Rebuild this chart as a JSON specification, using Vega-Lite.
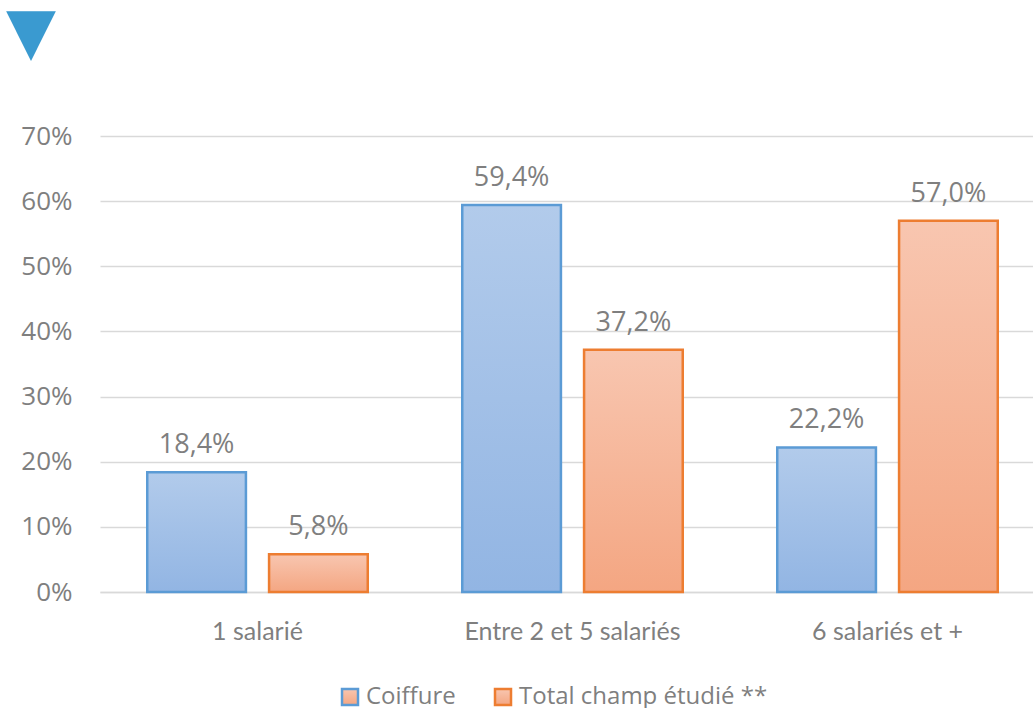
{
  "$schema": "https://vega.github.io/schema/vega-lite/v6.json",
  "width": 945,
  "height": 456,
  "autosize": "none",
  "padding": {"left": 100, "top": 136, "right": 0, "bottom": 116},
  "background": "white",
  "title": {
    "text": "▼",
    "anchor": "start",
    "frame": "group",
    "dx": -94,
    "offset": 56,
    "fontSize": 65,
    "font": "DejaVu Sans",
    "color": "#3A9AD0",
    "fontWeight": "normal"
  },
  "config": {
    "view": {"stroke": null},
    "locale": {"number": {"decimal": ",", "thousands": " ", "grouping": [3], "currency": ["", " €"]}},
    "font": "Open Sans"
  },
  "data": {
    "values": [
      {"cat": "1 salarié", "serie": "Coiffure", "value": 0.184},
      {"cat": "1 salarié", "serie": "Total champ étudié  **", "value": 0.058},
      {"cat": "Entre 2 et 5 salariés", "serie": "Coiffure", "value": 0.594},
      {"cat": "Entre 2 et 5 salariés", "serie": "Total champ étudié  **", "value": 0.372},
      {"cat": "6 salariés et +", "serie": "Coiffure", "value": 0.222},
      {"cat": "6 salariés et +", "serie": "Total champ étudié  **", "value": 0.570}
    ]
  },
  "encoding": {
    "x": {
      "field": "cat", "type": "nominal", "sort": null,
      "scale": {"paddingInner": 0.3, "paddingOuter": 0.15},
      "axis": {"title": null, "labelAngle": 0, "labelFontSize": 25, "labelColor": "#7F7F7F", "labelPadding": 27, "labelLimit": 0, "ticks": false, "domainColor": "#D9D9D9", "domainWidth": 1.5, "labelFont": "Lato"}
    },
    "xOffset": {"field": "serie", "type": "nominal", "sort": null, "scale": {"paddingInner": 0.19}},
    "y": {
      "field": "value", "type": "quantitative",
      "scale": {"domain": [0, 0.7], "nice": false},
      "axis": {"title": null, "format": ".0%", "values": [0, 0.1, 0.2, 0.3, 0.4, 0.5, 0.6, 0.7], "domain": false, "ticks": false, "labelPadding": 28, "labelFontSize": 26, "labelColor": "#7F7F7F", "gridColor": "#D9D9D9", "gridWidth": 1.5, "labelFont": "Open Sans"}
    }
  },
  "layer": [
    {
      "mark": {"type": "bar", "strokeWidth": 2.5},
      "encoding": {
        "fill": {
          "condition": {
            "test": "datum.serie === 'Coiffure'",
            "value": {"gradient": "linear", "x1": 0, "y1": 0, "x2": 0, "y2": 1, "stops": [{"offset": 0, "color": "#B2CBEB"}, {"offset": 1, "color": "#92B5E3"}]}
          },
          "value": {"gradient": "linear", "x1": 0, "y1": 0, "x2": 0, "y2": 1, "stops": [{"offset": 0, "color": "#F8C6B0"}, {"offset": 1, "color": "#F4A682"}]}
        },
        "stroke": {
          "field": "serie", "type": "nominal", "sort": null,
          "scale": {"range": ["#5B9BD5", "#ED7D31"]},
          "legend": {
            "title": null, "orient": "none", "legendX": 238, "legendY": 549, "direction": "horizontal",
            "symbolType": "square", "symbolSize": 256, "symbolStrokeWidth": 2.5,
            "labelFontSize": 24, "labelColor": "#7F7F7F", "labelFont": "Open Sans", "labelLimit": 0,
            "columnPadding": 34, "labelOffset": 4,
            "encode": {"symbols": {"update": {"fill": {"signal": "datum.value === 'Coiffure' ? '#A9C4EA' : '#F6B596'"}, "fillOpacity": {"value": 1}}}}
          }
        }
      }
    },
    {
      "mark": {"type": "text", "baseline": "alphabetic", "dy": -19, "fontSize": 27, "color": "#7F7F7F", "font": "Open Sans"},
      "encoding": {"text": {"field": "value", "type": "quantitative", "format": ".1%"}}
    }
  ]
}
